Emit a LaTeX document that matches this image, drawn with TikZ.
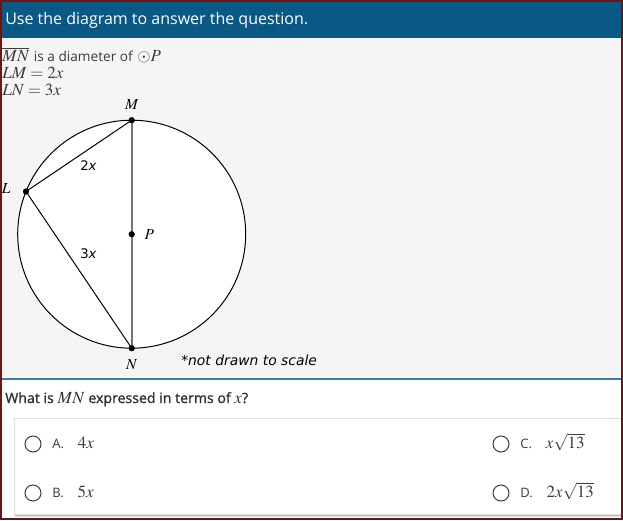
\documentclass[tikz,border=0pt]{standalone}
\usepackage{mathptmx}
\usepackage[no-math]{fontspec}
\setmainfont{Open Sans}
\newfontfamily\dejavu{DejaVu Sans}
\usetikzlibrary{positioning}
\definecolor{hdr}{RGB}{10,89,133}
\definecolor{rule}{RGB}{60,126,166}
\definecolor{frame}{RGB}{105,22,22}
\definecolor{paper}{RGB}{245,245,245}
\definecolor{ink}{RGB}{60,60,60}
\definecolor{boxline}{RGB}{222,222,222}
\definecolor{shade}{RGB}{226,206,206}

\begin{document}
\begin{tikzpicture}[x=0.75pt,y=-0.75pt,
   dot/.style={circle,fill=black,inner sep=0pt,minimum size=4.5pt},
   lab/.style={inner sep=0pt,font=\fontsize{11.5}{13}\selectfont},
   seg/.style={inner sep=0pt,font=\dejavu\fontsize{9.9}{12}\selectfont},
   radio/.style={circle,draw=ink,line width=0.75pt,inner sep=0pt,minimum size=12pt},
   opt/.style={inner sep=0pt,text=ink,font=\fontsize{9.75}{12}\selectfont},
   val/.style={inner sep=0pt,text=ink,font=\fontsize{12.75}{15}\selectfont}]
   \useasboundingbox (0,0) rectangle (623,520);

   % page
   \fill[paper] (0,38) rectangle (623,379);
   \fill[white] (0,379) rectangle (623,520);
   \fill[hdr] (0,0) rectangle (623,38);
   \node[anchor=base west,inner sep=0pt,text=white,font=\fontsize{12}{14}\selectfont]
      (head) at (5,25) {Use the diagram to answer the question.};

   % givens
   \node[anchor=base west,inner sep=0pt,text=ink,font=\fontsize{12.75}{15}\selectfont]
      (g1) at (2,61.7) {$\overline{MN}$ {\fontsize{10.25}{12}\selectfont is a diameter of} $\odot P$};
   \node[anchor=base west,inner sep=0pt,text=ink,font=\fontsize{12.75}{15}\selectfont]
      (g2) at (2,79) {$LM=2x$};
   \node[anchor=base west,inner sep=0pt,text=ink,font=\fontsize{12.75}{15}\selectfont]
      (g3) at (2,95.5) {$LN=3x$};

   % circle
   \coordinate (c) at (131.7,234.2);
   \filldraw[fill=white,draw=black,line width=0.75pt] (c) circle (114);

   \node[dot] (M) at (131.7,120.2) {};
   \node[dot] (N) at (131.7,348.2) {};
   \node[dot] (P) at (131.7,234.2) {};
   \node[dot] (L) at (26,191.5) {};

   \draw[gray!90!black,line width=1.3pt] (M.center) -- (N.center);
   \draw[line width=0.75pt] (L.center) -- (M.center);
   \draw[line width=0.75pt] (L.center) -- (N.center);
   \foreach \p in {M,N,P,L} \fill (\p) circle (3);

   \node[lab, above=5.5pt of M] (lM) {$M$};
   \node[lab, below=6pt of N] (lN) {$N$};
   \node[lab, left=9pt of L, yshift=2.5pt] (lL) {$L$};
   \node[lab, right=7pt of P] (lP) {$P$};

   \node[seg] (s2) at (88.5,166) {2\textit{x}};
   \node[seg] (s3) at (88.5,254) {3\textit{x}};
   \node[seg, anchor=west, font=\dejavu\itshape\fontsize{10.4}{12}\selectfont]
      (note) at (181,360.5) {*not drawn to scale};

   % question
   \draw[rule,line width=1.5pt] (0,379) -- (623,379);
   \node[anchor=base west,inner sep=0pt,text=ink!80!black,
      font=\fontsize{10.6}{13}\selectfont\addfontfeature{FakeBold=1.2}]
      (q) at (5,403) {What is {\fontsize{12.75}{15}\selectfont$MN$} expressed in terms of {\fontsize{12.75}{15}\selectfont$x$}?};

   % answers
   \fill[shade] (15,513) rectangle (623,517);
   \filldraw[fill=white,draw=boxline,line width=0.75pt] (14,418) rectangle (630,514);

   \node[radio] (rA) at (33,444) {};
   \node[radio] (rB) at (33,493) {};
   \node[radio] (rC) at (501,444) {};
   \node[radio] (rD) at (501,493) {};

   \node[opt, right=8pt of rA] (tA) {A.};
   \node[opt, right=8pt of rB] (tB) {B.};
   \node[opt, right=8pt of rC] (tC) {C.};
   \node[opt, right=8pt of rD] (tD) {D.};

   \node[val, base right=10pt of tA] (vA) {$4x$};
   \node[val, base right=10pt of tB] (vB) {$5x$};
   \node[val, base right=10pt of tC] (vC) {$x\sqrt{13}$};
   \node[val, base right=10pt of tD] (vD) {$2x\sqrt{13}$};

   % frame
   \draw[frame,line width=1.5pt] (1,1) rectangle (622,519);
\end{tikzpicture}
\end{document}
